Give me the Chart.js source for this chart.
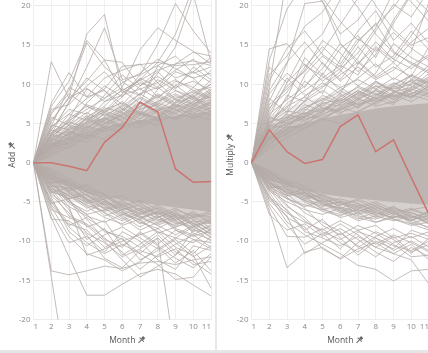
<!DOCTYPE html>
<html><head><meta charset="utf-8">
<script src="https://cdn.jsdelivr.net/npm/chart.js@4/dist/chart.umd.min.js"></script>
<style>
html,body{margin:0;padding:0;background:#fff;overflow:hidden;width:428px;height:353px;}
#wrap{position:relative;width:428px;height:353px;overflow:hidden;}
canvas{position:absolute;top:0;}
#c1{left:0;} #c2{left:218px;}
#sep{position:absolute;left:215px;top:0;width:2px;height:350px;background:#e8e8e8;}
#foot{position:absolute;left:0;top:350px;width:428px;height:3px;background:#e6e6e6;}
</style></head><body>
<div id="wrap"><canvas id="c1" width="213" height="350"></canvas><div id="sep"></div><canvas id="c2" width="213" height="350"></canvas><div id="foot"></div></div>
<script>
const months = [1,2,3,4,5,6,7,8,9,10,11];
const yTicks = [-20,-15,-10,-5,0,5,10,15,20];

// highlighted (red) series
const addHighlight = [0,0,-0.45,-1.0,2.6,4.5,7.7,6.5,-0.8,-2.5,-2.4];
const mulHighlight = [0,4.2,1.4,-0.1,0.4,4.6,6.1,1.4,2.9,-1.9,-6.6];

// dense mass of the Add panel (envelopes: solid core, mid, outer halo)
const addCoreTop = [0,2.4,3.3,4.0,4.6,5.0,5.4,5.7,6.0,6.3,6.6];
const addCoreBot = [0,-2.3,-3.1,-3.8,-4.3,-4.8,-5.1,-5.4,-5.7,-6.0,-6.3];
const addMidTop  = [0,3.2,4.3,5.1,5.7,6.2,6.6,7.0,7.3,7.6,7.9];
const addMidBot  = [0,-3.0,-4.0,-4.8,-5.4,-5.9,-6.3,-6.7,-7.0,-7.3,-7.6];
const addHaloTop = [0,3.8,5.2,6.1,6.8,7.3,7.8,8.2,8.5,8.8,9.0];
const addHaloBot = [0,-3.6,-4.8,-5.6,-6.3,-6.8,-7.3,-7.7,-8.0,-8.3,-8.6];

// dense mass of the Multiply panel
const mulCoreTop = [0,3.6,4.5,5.1,5.6,6.1,6.5,6.9,7.2,7.4,7.6];
const mulCoreBot = [0,-2.2,-3.0,-3.5,-4.0,-4.3,-4.6,-4.8,-5.0,-5.2,-5.4];
const mulMidTop  = [0,4.6,5.7,6.4,7.0,7.5,8.0,8.3,8.7,9.0,9.2];
const mulMidBot  = [0,-2.8,-3.8,-4.4,-5.0,-5.4,-5.7,-6.0,-6.2,-6.4,-6.6];
const mulHaloTop = [0,5.8,7.0,7.8,8.4,9.0,9.4,9.8,10.2,10.6,10.8];
const mulHaloBot = [0,-3.4,-4.6,-5.4,-6.0,-6.4,-6.8,-7.1,-7.4,-7.6,-7.8];

// individual gray lines, Add panel
const addUpper = [
[0,12.9,8.2,9.5,7.8,8.6,9.4,10.2,8.1,7.4,9.0],
[0,5.2,8.4,16.4,18.9,9.2,10.5,11.8,12.6,13.0,12.4],
[0,4.1,7.6,12.2,17.2,10.6,11.2,12.4,10.8,11.6,10.2],
[0,7.2,10.4,15.6,13.1,12.8,9.8,11.0,9.6,10.4,9.2],
[0,7.6,11.5,8.4,9.2,6.8,8.8,7.4,9.9,8.2,10.6],
[0,3.2,5.4,6.8,8.2,9.6,14.4,17.2,15.6,14.2,12.6],
[0,2.6,4.8,4.2,6.4,8.4,11.2,15.1,20.3,16.8,14.0],
[0,3.8,5.2,7.4,6.6,8.8,10.6,12.8,16.4,22.5,24.0],
[0,2.4,3.6,5.8,7.2,9.4,8.6,11.4,14.8,21.5,12.8],
[0,3.4,6.2,8.2,9.4,12.3,12.5,12.8,12.4,12.5,12.9],
[0,5.4,8.2,10.4,13.1,8.9,10.2,9.4,11.6,10.8,11.4],
[0,6.4,9.2,15.3,12.2,10.4,8.6,10.6,9.2,8.4,10.0],
[0,6.8,7.4,9.8,11.6,9.2,7.6,12.4,13.6,11.4,12.2],
[0,4.6,9.6,8.4,10.8,11.8,12.6,10.2,11.8,13.2,11.0],
[0,2.8,5.6,9.4,8.2,10.2,11.4,13.2,12.0,10.8,8.6],
[0,5.8,4.8,7.6,9.8,8.4,10.8,9.6,12.6,14.1,13.6],
[0,4.4,6.8,6.2,8.6,11.2,9.4,8.2,10.4,9.6,11.8],
[0,3.6,7.8,10.8,9.2,7.4,9.8,11.6,9.4,12.2,10.6],
[0,1.8,3.4,5.2,7.8,9.2,10.6,8.4,9.8,11.6,13.4],
[0,6.2,8.8,7.2,6.4,7.8,6.2,9.4,10.6,9.2,8.2]
];
const addMid = [
[0,3.0,4.2,5.6,6.4,5.2,6.8,7.4,6.2,7.8,8.4],
[0,2.2,4.6,3.8,5.4,6.8,5.6,7.2,8.6,7.4,6.6],
[0,4.2,3.4,5.8,4.6,6.2,7.8,6.4,5.6,7.2,8.8],
[0,1.6,3.2,4.8,6.2,5.4,7.2,8.6,7.4,6.8,7.6],
[0,3.6,5.2,4.4,5.8,7.4,6.2,5.8,7.6,8.4,7.2],
[0,2.8,3.6,5.2,7.0,6.4,5.0,6.6,8.2,9.0,8.0],
[0,1.2,2.8,4.2,5.0,6.6,8.2,7.0,6.2,5.8,7.0],
[0,3.4,4.8,6.4,5.2,4.6,6.0,7.8,9.2,8.0,9.4],
[0,2.0,3.8,3.2,4.6,5.8,7.2,8.4,7.2,8.6,6.4],
[0,4.6,6.2,5.4,6.8,7.6,6.4,5.4,6.8,6.2,7.8],
[0,2.6,2.2,4.0,5.6,4.8,6.6,5.6,7.8,9.2,9.6],
[0,3.8,5.6,7.2,6.0,7.2,8.8,9.6,8.0,7.0,8.6],
[0,1.4,3.0,2.6,4.4,3.8,5.6,6.8,5.4,6.6,7.4],
[0,2.4,1.8,3.6,3.0,5.2,4.4,5.8,7.0,8.2,6.8],
[0,3.2,4.0,3.4,5.0,6.0,7.6,6.2,7.2,6.0,5.4],
[0,0.8,2.6,4.6,4.0,4.8,6.2,5.2,6.6,7.8,9.2],
[0,2.0,3.4,5.0,6.6,5.8,4.8,6.0,5.6,7.0,6.0],
[0,4.8,4.2,5.2,5.6,7.0,6.0,7.6,6.8,5.6,6.6],
[0,1.8,4.0,3.0,4.2,5.6,6.8,7.8,8.8,7.6,8.0],
[0,3.0,2.4,4.4,5.8,4.4,5.4,4.8,6.4,7.4,9.0],
[0,2.6,4.4,6.0,5.0,6.2,7.0,8.8,7.6,9.6,8.2],
[0,1.0,2.0,3.2,4.8,6.4,5.2,6.6,7.4,6.4,7.0],
[0,3.6,3.0,4.6,5.4,6.6,8.4,7.2,5.8,6.8,7.8],
[0,2.2,3.8,5.6,4.4,5.0,6.4,5.6,7.2,8.8,10.0],
[0,-2.8,-4.2,-5.4,-6.2,-5.6,-7.0,-6.4,-7.6,-8.2,-7.4],
[0,-2.0,-3.6,-4.8,-5.8,-7.2,-6.0,-7.8,-6.6,-7.2,-8.8],
[0,-3.6,-4.6,-4.0,-5.6,-6.4,-7.6,-8.4,-7.2,-6.4,-7.8],
[0,-1.4,-3.0,-4.6,-6.8,-6.0,-5.4,-6.8,-8.4,-9.2,-8.0],
[0,-3.2,-5.0,-6.2,-5.2,-6.8,-8.2,-7.0,-6.2,-7.8,-9.0],
[0,-2.4,-3.8,-5.6,-7.0,-7.8,-6.6,-5.8,-7.4,-8.6,-7.0],
[0,-1.8,-2.6,-4.2,-5.0,-6.2,-7.4,-8.8,-9.6,-8.2,-9.4],
[0,-4.0,-5.6,-6.8,-7.6,-6.6,-5.8,-7.2,-8.0,-6.8,-6.2],
[0,-2.6,-4.4,-3.6,-5.4,-7.0,-8.6,-7.6,-6.8,-9.0,-9.8],
[0,-3.0,-4.8,-6.6,-6.0,-5.2,-6.8,-8.0,-9.2,-8.0,-7.6],
[0,-1.0,-2.4,-3.8,-4.8,-6.0,-7.0,-6.2,-7.0,-8.4,-10.0],
[0,-3.8,-3.2,-5.0,-6.4,-8.0,-7.2,-9.0,-8.2,-7.4,-8.6],
[0,-1.6,-2.8,-3.6,-4.6,-4.2,-5.6,-6.6,-5.8,-7.0,-6.6],
[0,-2.6,-2.2,-3.8,-4.4,-5.4,-4.8,-6.0,-7.2,-6.2,-7.6],
[0,-3.4,-4.0,-5.0,-4.2,-5.8,-6.4,-5.6,-6.8,-8.0,-7.2],
[0,-1.2,-2.6,-4.2,-5.4,-4.8,-6.2,-7.0,-6.0,-6.8,-8.4],
[0,-2.2,-3.6,-3.0,-4.8,-6.0,-5.2,-6.4,-7.8,-7.0,-6.4],
[0,-3.0,-3.2,-4.6,-5.8,-5.0,-6.0,-5.4,-6.6,-7.6,-9.2],
[0,-1.8,-3.8,-5.2,-4.6,-6.6,-7.2,-6.2,-7.4,-6.6,-7.0],
[0,-2.8,-4.6,-4.0,-6.0,-5.4,-7.0,-8.0,-7.0,-8.8,-8.0],
[0,-0.8,-2.0,-3.4,-4.0,-5.6,-5.0,-6.8,-8.2,-7.4,-7.8],
[0,-3.8,-4.2,-5.8,-5.0,-6.2,-7.8,-6.8,-8.6,-9.4,-8.6],
[0,-2.0,-3.0,-4.8,-6.4,-7.4,-6.4,-7.4,-6.4,-8.0,-9.6],
[0,-1.4,-3.4,-2.8,-4.2,-5.2,-6.6,-5.8,-6.8,-7.8,-6.8]
];
const addLower = [
[0,-14.5,-29,-27,-30,-28,-29,-30,-31,-30,-29],
[0,-13.8,-14.3,-13.8,-13.2,-13.5,-12.8,-12.6,-13.0,-12.4,-12.0],
[0,-7.0,-12.0,-16.9,-16.9,-15.5,-14.2,-13.6,-14.2,-15.6,-17.0],
[0,-5.0,-8.2,-10.2,-11.6,-10.4,-11.6,-13.0,-14.9,-14.6,-12.0],
[0,-4.2,-6.4,-9.0,-10.2,-12.0,-11.0,-9.6,-25,-28,-27],
[0,-7.2,-7.4,-9.2,-12.2,-13.4,-11.2,-12.0,-11.0,-13.0,-12.6],
[0,-3.0,-5.6,-11.8,-11.0,-10.0,-9.2,-8.4,-10.2,-12.0,-10.6],
[0,-5.6,-9.4,-11.6,-12.4,-13.8,-12.6,-10.8,-12.8,-11.2,-13.8],
[0,-4.8,-7.8,-8.6,-10.8,-9.6,-12.4,-11.2,-9.8,-11.6,-9.4],
[0,-6.4,-10.2,-9.4,-11.4,-8.8,-10.0,-12.4,-13.6,-10.6,-11.2],
[0,-3.6,-6.8,-7.8,-9.6,-11.4,-13.6,-11.8,-10.4,-9.2,-10.8],
[0,-5.2,-4.6,-8.2,-7.4,-10.6,-9.0,-10.6,-12.2,-13.4,-11.6],
[0,-2.4,-5.2,-6.6,-8.8,-9.4,-10.8,-9.2,-11.4,-12.6,-14.2],
[0,-4.4,-8.8,-10.6,-9.2,-8.2,-9.6,-11.0,-9.6,-10.2,-8.4],
[0,-6.0,-7.0,-8.0,-10.0,-12.4,-14.6,-13.2,-11.8,-9.8,-11.0],
[0,-3.4,-6.0,-9.8,-8.4,-11.8,-10.4,-8.8,-10.8,-11.8,-16.0],
[0,-2.2,-4.8,-7.2,-9.8,-10.8,-8.8,-10.4,-8.6,-9.8,-10.2],
[0,-5.4,-8.0,-7.0,-8.6,-9.8,-11.6,-9.6,-11.8,-8.6,-9.0]
];

// individual gray lines, Multiply panel
const mulUpper = [
[0,14.5,15.2,12.4,11.0,9.6,8.2,10.4,9.0,11.2,10.0],
[0,9.6,24,22,20.6,15.2,12.6,14.8,13.2,12.0,13.6],
[0,7.8,12.6,20.3,20.6,16.4,18.2,21.5,24,26,22],
[0,10.4,14.6,16.8,13.8,12.2,15.4,17.8,14.2,12.6,11.4],
[0,6.4,9.8,11.6,14.2,17.6,21.0,25,23,20.5,18],
[0,5.6,8.2,13.4,11.2,14.6,16.2,13.4,17.8,21.4,19.2],
[0,8.8,11.4,9.6,12.8,10.6,13.4,16.8,20.2,18.6,22],
[0,4.8,7.6,9.2,10.8,12.4,11.2,14.6,12.8,15.4,17.2],
[0,12.2,10.2,14.4,16.4,20.8,24,20,17,15,16],
[0,6.8,10.8,8.6,9.8,11.6,14.8,12.2,13.6,16.8,14.4],
[0,3.8,6.4,11.2,13.6,11.8,9.8,11.4,15.2,13.4,12.2],
[0,9.2,12.8,15.4,12.6,10.4,12.2,10.6,11.8,14.2,20.5],
[0,5.2,7.0,10.4,8.8,13.2,16.8,19.4,15.6,17.8,15.2],
[0,7.4,9.4,11.8,15.6,14.0,11.6,13.8,18.2,21.6,26],
[0,4.4,8.6,7.8,11.4,9.2,10.8,12.6,10.6,12.4,13.8],
[0,11.2,13.6,17.4,19.2,22.6,19.8,16.4,14.0,12.8,11.6],
[0,6.2,8.0,9.8,12.0,15.2,13.0,11.0,12.8,10.6,12.4],
[0,8.2,6.4,8.4,10.2,8.8,12.6,15.4,13.2,16.2,19.6],
[0,5.8,10.2,12.6,10.4,12.0,14.0,17.2,21.8,24,21],
[0,3.2,5.6,8.0,9.6,11.2,12.8,10.8,12.2,11.0,14.8],
[0,13.0,19.6,23,21,18,15.6,17.6,19.8,23,25],
[0,7.0,9.0,12.2,14.8,12.6,15.8,14.2,16.6,14.6,13.0]
];
const mulMid = [
[0,4.2,5.8,7.0,8.2,7.4,9.0,8.2,9.6,10.4,9.2],
[0,5.0,6.6,6.2,7.8,9.2,8.0,9.8,8.6,9.4,10.8],
[0,3.4,5.2,7.4,6.6,8.4,9.6,8.6,10.2,9.0,8.4],
[0,4.8,4.4,6.6,8.6,7.6,8.8,10.4,9.2,8.2,9.8],
[0,2.8,4.8,5.8,7.2,8.8,7.4,8.0,9.8,11.2,10.2],
[0,5.4,7.2,8.4,7.0,6.6,8.2,9.2,8.0,9.6,11.4],
[0,3.0,4.0,6.0,7.6,8.0,9.8,8.8,7.6,8.8,9.6],
[0,4.6,6.2,5.4,6.4,8.6,7.0,9.4,10.8,9.8,8.8],
[0,3.8,5.6,7.8,9.2,7.8,9.2,7.4,8.8,10.6,9.0],
[0,5.8,5.0,7.0,8.0,9.6,10.6,9.4,8.4,9.2,10.6],
[0,2.4,3.8,5.0,6.2,7.0,6.4,7.8,8.6,7.8,9.0],
[0,3.6,4.6,4.4,5.8,6.8,8.2,7.2,7.8,9.4,8.6],
[0,4.6,5.4,6.4,5.6,6.8,7.6,8.8,8.2,8.8,10.0],
[0,1.8,3.2,4.4,5.6,5.0,6.6,7.6,9.0,8.4,9.4],
[0,3.0,4.8,6.2,7.4,6.4,7.2,8.2,7.4,10.2,9.6],
[0,5.2,5.8,5.2,6.8,8.0,7.0,8.6,9.8,8.6,8.0],
[0,2.8,3.6,5.6,6.0,7.6,8.8,7.8,9.0,9.6,11.0],
[0,4.0,6.0,5.8,7.0,6.2,8.0,9.2,8.4,9.2,10.4],
[0,3.2,4.2,6.8,6.4,8.2,7.4,8.4,10.0,11.0,9.8],
[0,4.4,4.8,5.8,7.6,7.2,8.6,9.8,9.4,10.0,12.0],
[0,2.2,4.4,4.8,6.6,7.8,9.2,8.2,8.8,10.6,10.2],
[0,3.8,5.0,6.0,5.4,7.0,8.4,10.2,9.2,8.4,9.8],
[0,-2.6,-3.8,-4.6,-5.4,-5.0,-6.2,-5.6,-6.6,-7.0,-6.4],
[0,-1.8,-3.2,-4.2,-5.0,-6.2,-5.4,-6.6,-5.8,-6.4,-7.2],
[0,-3.2,-4.2,-3.8,-5.2,-5.8,-6.8,-7.2,-6.4,-5.8,-6.8],
[0,-1.2,-2.8,-4.2,-6.0,-5.4,-4.8,-6.0,-7.2,-7.8,-7.0],
[0,-2.8,-4.6,-5.6,-4.8,-6.0,-7.2,-6.2,-5.6,-6.8,-7.6],
[0,-2.2,-3.4,-5.0,-6.2,-6.8,-5.8,-5.2,-6.4,-7.4,-6.2],
[0,-3.6,-5.0,-6.0,-6.6,-5.8,-5.2,-6.4,-7.0,-6.0,-5.6],
[0,-2.4,-4.0,-3.4,-4.8,-6.2,-7.4,-6.8,-6.0,-7.6,-8.2],
[0,-1.6,-2.6,-3.8,-4.6,-5.6,-6.4,-5.8,-6.4,-7.2,-8.4],
[0,-3.0,-3.6,-4.8,-5.8,-7.0,-6.4,-7.6,-7.0,-6.4,-7.4],
[0,-1.4,-2.4,-3.4,-4.2,-4.8,-5.6,-5.0,-6.0,-6.4,-7.0],
[0,-2.0,-2.8,-3.6,-4.6,-5.4,-4.6,-5.6,-6.6,-6.0,-6.8],
[0,-2.8,-3.4,-4.4,-4.0,-5.2,-6.0,-6.6,-5.6,-7.0,-6.2],
[0,-1.0,-2.2,-3.0,-4.4,-5.0,-5.8,-6.4,-7.0,-6.6,-7.8],
[0,-2.4,-3.8,-4.8,-5.6,-5.0,-6.6,-6.0,-6.8,-7.4,-6.6],
[0,-3.2,-3.0,-4.0,-5.2,-6.4,-5.6,-6.8,-7.4,-6.8,-7.4],
[0,-1.8,-3.2,-4.6,-4.2,-5.8,-6.2,-5.4,-6.2,-7.8,-8.6],
[0,-2.6,-4.2,-3.8,-5.4,-5.8,-7.0,-7.6,-6.8,-7.2,-6.8],
[0,-1.2,-2.6,-3.8,-5.0,-4.6,-5.2,-6.2,-7.2,-8.0,-7.6],
[0,-3.4,-4.6,-5.4,-6.0,-6.6,-6.0,-7.0,-6.2,-6.8,-7.8]
];
const mulLower = [
[0,-6.1,-13.4,-11.4,-10.8,-12.3,-11.0,-10.2,-11.6,-10.4,-12.4],
[0,-4.2,-7.6,-9.2,-10.4,-11.6,-13.1,-13.6,-15.1,-13.8,-13.6],
[0,-3.4,-6.2,-8.8,-9.6,-10.6,-9.4,-10.8,-11.6,-12.4,-15.5],
[0,-5.6,-9.4,-9.5,-8.4,-10.2,-11.4,-9.6,-10.6,-11.2,-10.0],
[0,-2.8,-5.4,-7.4,-8.8,-9.8,-8.6,-10.4,-9.2,-10.2,-11.4],
[0,-4.8,-6.8,-11.6,-10.2,-9.0,-10.6,-12.0,-10.2,-9.4,-10.8],
[0,-3.8,-7.0,-8.2,-11.0,-12.2,-10.2,-8.8,-9.8,-11.6,-9.6],
[0,-6.6,-8.6,-7.8,-9.4,-8.4,-9.8,-11.4,-12.6,-10.8,-12.0],
[0,-2.4,-4.4,-6.4,-7.6,-8.8,-10.8,-9.4,-8.4,-9.6,-8.8],
[0,-5.2,-8.0,-10.4,-9.0,-11.0,-8.8,-9.6,-11.2,-10.0,-11.2],
[0,-3.2,-5.6,-7.0,-9.2,-7.8,-9.2,-10.8,-9.4,-11.4,-10.4],
[0,-4.4,-6.0,-8.6,-7.2,-9.6,-11.8,-10.0,-11.0,-8.6,-9.4],
[0,-2.0,-4.0,-5.8,-8.0,-9.2,-8.0,-9.0,-10.4,-12.0,-11.8],
[0,-4.6,-6.4,-7.6,-8.6,-7.4,-8.6,-8.0,-9.6,-9.0,-9.8]
];

const LINE_GRAY = 'rgba(180,171,167,0.78)';
const CORE_GRAY = '#bdb5b2';
const MID_GRAY = 'rgba(189,181,178,0.5)';
const HALO_GRAY = 'rgba(189,181,178,0.25)';
const RED = '#cb7571';
const FONT = '"Open Sans", "DejaVu Sans", sans-serif';

function drawPin(ctx, x, y, ang){
  ctx.save(); ctx.translate(x,y); ctx.rotate(ang);
  ctx.strokeStyle='#666'; ctx.fillStyle='#666'; ctx.lineWidth=1;
  ctx.fillRect(-1.5,-4,3,3);
  ctx.beginPath(); ctx.moveTo(-3,-0.5); ctx.lineTo(3,-0.5); ctx.stroke();
  ctx.beginPath(); ctx.moveTo(0,-0.5); ctx.lineTo(0,4); ctx.stroke();
  ctx.restore();
}
const pinPlugin = {
  id:'pins',
  afterDraw(chart){
    const ctx = chart.ctx;
    ctx.save();
    ctx.font = '8.5px ' + FONT;
    const xs = chart.scales.x, ys = chart.scales.y;
    const wx = ctx.measureText(xs.options.title.text).width;
    drawPin(ctx, (xs.left+xs.right)/2 + wx/2 + 6, 340, Math.PI/4);
    const wy = ctx.measureText(ys.options.title.text).width;
    drawPin(ctx, 12, (ys.top+ys.bottom)/2 - wy/2 - 6, -Math.PI/4);
    ctx.restore();
  }
};

function makeChart(id, yTitle, bands, groups, highlight){
  const ds = [];
  bands.forEach((b, i) => {
    const ord = 2 + bands.length - i;
    ds.push({data: b[0], fill:'+1', backgroundColor: b[2], borderWidth:0, pointRadius:0, order:ord});
    ds.push({data: b[1], fill:false, borderWidth:0, pointRadius:0, order:ord});
  });
  groups.forEach(g => g.forEach(series => ds.push({data: series, borderColor: LINE_GRAY, borderWidth:1, pointRadius:0, fill:false, order:1})));
  ds.push({data: highlight, borderColor: RED, borderWidth:1.5, pointRadius:0, fill:false, order:0});
  return new Chart(document.getElementById(id), {
    type:'line',
    data:{labels: months, datasets: ds},
    options:{
      responsive:false, animation:false, devicePixelRatio:1,
      layout:{padding:{top:0,right:2,bottom:0,left:0}},
      plugins:{legend:{display:false}, tooltip:{enabled:false}},
      elements:{line:{tension:0}},
      scales:{
        x:{
          type:'category', offset:false,
          grid:{color:'#f0f0f0', drawTicks:false},
          border:{display:false},
          ticks:{color:'#8a8a8a', font:{size:8, family:FONT}, padding:2, maxRotation:0, autoSkip:false, align:'inner'},
          title:{display:true, text:'Month', color:'#555', font:{size:8.5, family:FONT}, padding:{top:0,bottom:4}},
          afterFit(s){ s.height = 30.5; s.paddingLeft = 0; s.paddingRight = 0; }
        },
        y:{
          min:-20, max:20.75,
          grid:{color:'#ededed', drawTicks:false},
          border:{display:false},
          ticks:{color:'#8a8a8a', font:{size:8, family:FONT}, padding:3, align:'inner'},
          afterBuildTicks(s){ s.ticks = yTicks.map(v => ({value:v})); },
          title:{display:true, text:yTitle, color:'#555', font:{size:8.5, family:FONT}, padding:{top:7,bottom:0}},
          afterFit(s){ s.width = 33.5; s.paddingTop = 0; s.paddingBottom = 0; }
        }
      }
    },
    plugins:[pinPlugin]
  });
}

makeChart('c1', 'Add',
  [[addHaloTop, addHaloBot, HALO_GRAY], [addMidTop, addMidBot, MID_GRAY], [addCoreTop, addCoreBot, CORE_GRAY]],
  [addUpper, addMid, addLower], addHighlight);
makeChart('c2', 'Multiply',
  [[mulHaloTop, mulHaloBot, HALO_GRAY], [mulMidTop, mulMidBot, MID_GRAY], [mulCoreTop, mulCoreBot, CORE_GRAY]],
  [mulUpper, mulMid, mulLower], mulHighlight);
</script>
</body></html>
